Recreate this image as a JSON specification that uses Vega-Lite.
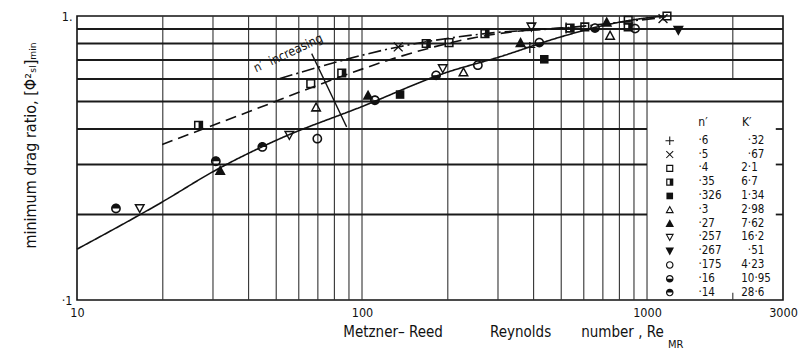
{
  "$schema": "https://vega.github.io/schema/vega-lite/v6.json",
  "width": 706,
  "height": 284,
  "autosize": "none",
  "padding": {"left": 77, "top": 16, "right": 22, "bottom": 56},
  "background": "white",
  "config": {
    "view": {"stroke": "#111", "strokeWidth": 1.6},
    "font": "DejaVu Sans Condensed, Liberation Sans Narrow, DejaVu Sans, sans-serif"
  },
  "datasets": {
    "hgrid": [
      {"y": 0.2, "x1": 10, "x2": 1000}, {"y": 0.3, "x1": 10, "x2": 1000}, {"y": 0.4, "x1": 10, "x2": 1000},
      {"y": 0.5, "x1": 10, "x2": 3000}, {"y": 0.6, "x1": 10, "x2": 3000}, {"y": 0.7, "x1": 10, "x2": 3000},
      {"y": 0.8, "x1": 10, "x2": 3000}, {"y": 0.9, "x1": 10, "x2": 3000},
      {"y": 0.2, "x1": 2830, "x2": 3000}, {"y": 0.3, "x1": 2830, "x2": 3000}, {"y": 0.4, "x1": 2830, "x2": 3000}
    ],
    "vgrid": [
      {"x": 20, "y1": 0.1, "y2": 1}, {"x": 30, "y1": 0.1, "y2": 1}, {"x": 40, "y1": 0.1, "y2": 1},
      {"x": 50, "y1": 0.1, "y2": 1}, {"x": 60, "y1": 0.1, "y2": 1}, {"x": 70, "y1": 0.1, "y2": 1},
      {"x": 80, "y1": 0.1, "y2": 1}, {"x": 90, "y1": 0.1, "y2": 1}, {"x": 100, "y1": 0.1, "y2": 1},
      {"x": 200, "y1": 0.1, "y2": 1}, {"x": 300, "y1": 0.1, "y2": 1}, {"x": 400, "y1": 0.1, "y2": 1},
      {"x": 500, "y1": 0.1, "y2": 1}, {"x": 600, "y1": 0.1, "y2": 1}, {"x": 700, "y1": 0.1, "y2": 1},
      {"x": 800, "y1": 0.1, "y2": 1}, {"x": 900, "y1": 0.1, "y2": 1}, {"x": 1000, "y1": 0.1, "y2": 1},
      {"x": 2000, "y1": 0.6, "y2": 1}, {"x": 2000, "y1": 0.1, "y2": 0.106}
    ],
    "curves": [
      {"curve": "solid", "x": 10, "y": 0.151}, {"curve": "solid", "x": 20, "y": 0.222},
      {"curve": "solid", "x": 30, "y": 0.283}, {"curve": "solid", "x": 50, "y": 0.365},
      {"curve": "solid", "x": 100, "y": 0.48}, {"curve": "solid", "x": 200, "y": 0.635},
      {"curve": "solid", "x": 300, "y": 0.715}, {"curve": "solid", "x": 500, "y": 0.845},
      {"curve": "solid", "x": 700, "y": 0.925}, {"curve": "solid", "x": 1000, "y": 0.985},
      {"curve": "solid", "x": 1150, "y": 1.0},
      {"curve": "dashed", "x": 19.9, "y": 0.353}, {"curve": "dashed", "x": 40, "y": 0.46},
      {"curve": "dashed", "x": 80, "y": 0.6}, {"curve": "dashed", "x": 136, "y": 0.72},
      {"curve": "dashed", "x": 250, "y": 0.84}, {"curve": "dashed", "x": 400, "y": 0.895},
      {"curve": "dashed", "x": 530, "y": 0.91},
      {"curve": "dashdot", "x": 51.5, "y": 0.602}, {"curve": "dashdot", "x": 134, "y": 0.778},
      {"curve": "dashdot", "x": 270, "y": 0.867}, {"curve": "dashdot", "x": 530, "y": 0.91},
      {"curve": "dashdot", "x": 800, "y": 0.95}, {"curve": "dashdot", "x": 1160, "y": 0.99}
    ],
    "arrow": [{"x": 66.6, "y": 0.737, "x2": 88.3, "y2": 0.407}],
    "notes": [{"x": 42.5, "y": 0.632, "t": "n′\u00a0\u00a0increasing"}],
    "sub": [{"x": 1185, "y": 0.0675, "t": "MR"}],
    "pts": [
      {"n": "·6", "x": 520, "y": 0.907}, {"n": "·6", "x": 388, "y": 0.775},
      {"n": "·5", "x": 134, "y": 0.778}, {"n": "·5", "x": 1138, "y": 0.979},
      {"n": "·4", "x": 66.1, "y": 0.578}, {"n": "·4", "x": 202, "y": 0.806}, {"n": "·4", "x": 605, "y": 0.915},
      {"n": "·4", "x": 859, "y": 0.966}, {"n": "·4", "x": 1175, "y": 1.0},
      {"n": "·35", "x": 26.7, "y": 0.412}, {"n": "·35", "x": 84.9, "y": 0.63}, {"n": "·35", "x": 168, "y": 0.8},
      {"n": "·35", "x": 270, "y": 0.867}, {"n": "·35", "x": 537, "y": 0.907}, {"n": "·35", "x": 859, "y": 0.915},
      {"n": "·326", "x": 136, "y": 0.529}, {"n": "·326", "x": 436, "y": 0.704},
      {"n": "·3", "x": 69, "y": 0.478}, {"n": "·3", "x": 227, "y": 0.635}, {"n": "·3", "x": 742, "y": 0.855},
      {"n": "·27", "x": 31.8, "y": 0.286}, {"n": "·27", "x": 105, "y": 0.526}, {"n": "·27", "x": 360, "y": 0.806},
      {"n": "·27", "x": 722, "y": 0.952},
      {"n": "·257", "x": 16.6, "y": 0.21}, {"n": "·257", "x": 55.6, "y": 0.38}, {"n": "·257", "x": 192, "y": 0.653},
      {"n": "·257", "x": 393, "y": 0.915},
      {"n": "·267", "x": 1288, "y": 0.891},
      {"n": "·175", "x": 69.7, "y": 0.37}, {"n": "·175", "x": 255, "y": 0.671}, {"n": "·175", "x": 908, "y": 0.903},
      {"n": "·16", "x": 111, "y": 0.505}, {"n": "·16", "x": 182, "y": 0.618}, {"n": "·16", "x": 419, "y": 0.806},
      {"n": "·16", "x": 657, "y": 0.907},
      {"n": "·14", "x": 13.7, "y": 0.21}, {"n": "·14", "x": 30.7, "y": 0.308}, {"n": "·14", "x": 44.7, "y": 0.346}
    ]
  },
  "layer": [
    {
      "data": {"name": "vgrid"},
      "mark": {"type": "rule", "color": "#333", "strokeWidth": 1.1},
      "encoding": {
        "x": {"field": "x", "type": "quantitative", "scale": {"type": "log", "domain": [10, 3000], "nice": false}},
        "y": {"field": "y1", "type": "quantitative", "scale": {"type": "log", "domain": [0.1, 1], "nice": false}},
        "y2": {"field": "y2"}
      }
    },
    {
      "data": {"name": "hgrid"},
      "mark": {"type": "rule", "color": "#1a1a1a", "strokeWidth": 1.8},
      "encoding": {
        "y": {"field": "y", "type": "quantitative", "scale": {"type": "log", "domain": [0.1, 1], "nice": false}},
        "x": {"field": "x1", "type": "quantitative", "scale": {"type": "log", "domain": [10, 3000], "nice": false}},
        "x2": {"field": "x2"}
      }
    },
    {
      "data": {"name": "curves"},
      "mark": {"type": "line", "color": "#111", "strokeWidth": 1.6, "interpolate": "monotone"},
      "encoding": {
        "x": {"field": "x", "type": "quantitative", "scale": {"type": "log", "domain": [10, 3000], "nice": false}},
        "y": {"field": "y", "type": "quantitative", "scale": {"type": "log", "domain": [0.1, 1], "nice": false}},
        "detail": {"field": "curve"},
        "strokeDash": {"field": "curve", "type": "nominal", "legend": null,
          "scale": {"domain": ["solid", "dashed", "dashdot"], "range": [[1, 0], [11, 6], [13, 4, 2, 4]]}}
      }
    },
    {
      "data": {"name": "arrow"},
      "mark": {"type": "rule", "color": "#111", "strokeWidth": 1.3},
      "encoding": {
        "x": {"field": "x", "type": "quantitative", "scale": {"type": "log", "domain": [10, 3000], "nice": false}},
        "y": {"field": "y", "type": "quantitative", "scale": {"type": "log", "domain": [0.1, 1], "nice": false}},
        "x2": {"field": "x2"},
        "y2": {"field": "y2"}
      }
    },
    {
      "data": {"name": "notes"},
      "mark": {"type": "text", "angle": -25, "align": "left", "baseline": "alphabetic", "fontSize": 12.5, "color": "#111"},
      "encoding": {
        "x": {"field": "x", "type": "quantitative", "scale": {"type": "log", "domain": [10, 3000], "nice": false}},
        "y": {"field": "y", "type": "quantitative", "scale": {"type": "log", "domain": [0.1, 1], "nice": false}},
        "text": {"field": "t"}
      }
    },
    {
      "data": {"name": "sub"},
      "mark": {"type": "text", "align": "left", "baseline": "alphabetic", "fontSize": 11, "color": "#111"},
      "encoding": {
        "x": {"field": "x", "type": "quantitative", "scale": {"type": "log", "domain": [10, 3000], "nice": false}},
        "y": {"field": "y", "type": "quantitative", "scale": {"type": "log", "domain": [0.1, 1], "nice": false}},
        "text": {"field": "t"}
      }
    },
    {
      "data": {"name": "pts"},
      "mark": {"type": "point", "filled": true, "color": "#111", "strokeWidth": 0, "size": 150, "opacity": 1},
      "encoding": {
        "x": {"field": "x", "type": "quantitative", "scale": {"type": "log", "domain": [10, 3000], "nice": false},
          "axis": {
            "title": "Metzner– Reed\u00a0\u00a0\u00a0\u00a0\u00a0\u00a0\u00a0\u00a0\u00a0\u00a0\u00a0Reynolds\u00a0\u00a0\u00a0\u00a0\u00a0\u00a0\u00a0number , Re",
            "titleFontSize": 15, "titleFontWeight": "normal", "titleColor": "#111",
            "titleX": 426, "titleY": 36, "titleAlign": "center", "titleBaseline": "alphabetic",
            "values": [10, 100, 1000, 3000], "format": "d", "labelFlush": false,
            "labelFontSize": 12.5, "labelColor": "#111", "labelPadding": 6,
            "ticks": false, "domain": false, "grid": false
          }},
        "y": {"field": "y", "type": "quantitative", "scale": {"type": "log", "domain": [0.1, 1], "nice": false},
          "axis": {
            "title": "minimum drag ratio, [Φ²ₛₗ]ₘᵢₙ",
            "titleFontSize": 16, "titleFontWeight": "normal", "titleColor": "#111",
            "titleX": -47, "titleY": 129, "titleAlign": "center", "titleBaseline": "middle",
            "values": [0.1, 1], "labelExpr": "datum.value > 0.5 ? '1.' : '·1'",
            "labelFontSize": 12.5, "labelColor": "#111", "labelPadding": 5,
            "ticks": false, "domain": false, "grid": false
          }},
        "shape": {"field": "n", "type": "nominal",
          "scale": {
            "domain": ["·6", "·5", "·4", "·35", "·326", "·3", "·27", "·257", "·267", "·175", "·16", "·14"],
            "range": [
              "M-0.9,-0.11H-0.11V-0.9H0.11V-0.11H0.9V0.11H0.11V0.9H-0.11V0.11H-0.9Z",
              "M-0.8,-0.65L-0.65,-0.8L0,-0.15L0.65,-0.8L0.8,-0.65L0.15,0L0.8,0.65L0.65,0.8L0,0.15L-0.65,0.8L-0.8,0.65L-0.15,0Z",
              "M-0.75,-0.75H0.75V0.75H-0.75Z M-0.5,-0.5V0.5H0.5V-0.5Z",
              "M-0.75,-0.75H0.75V0.75H-0.75Z M-0.5,-0.5V0.5H0.5V-0.5Z M0,-0.5H0.5V0.5H0Z",
              "M-0.7,-0.7H0.7V0.7H-0.7Z",
              "M0,-0.9L0.9,0.75H-0.9Z M0,-0.42L-0.5,0.5H0.5Z",
              "M0,-0.9L0.9,0.75H-0.9Z",
              "M-0.9,-0.75H0.9L0,0.9Z M-0.5,-0.5L0,0.42L0.5,-0.5Z",
              "M-0.9,-0.75H0.9L0,0.9Z",
              "M-0.8,0A0.8,0.8,0,1,1,0.8,0A0.8,0.8,0,1,1,-0.8,0Z M-0.55,0A0.55,0.55,0,1,0,0.55,0A0.55,0.55,0,1,0,-0.55,0Z",
              "M-0.8,0A0.8,0.8,0,1,1,0.8,0A0.8,0.8,0,1,1,-0.8,0Z M-0.55,0A0.55,0.55,0,1,0,0.55,0A0.55,0.55,0,1,0,-0.55,0Z M-0.55,0H0.55A0.55,0.55,0,0,1,-0.55,0Z",
              "M-0.8,0A0.8,0.8,0,1,1,0.8,0A0.8,0.8,0,1,1,-0.8,0Z M-0.55,0A0.55,0.55,0,1,0,0.55,0A0.55,0.55,0,1,0,-0.55,0Z M0.55,0H-0.55A0.55,0.55,0,0,1,0.55,0Z"
            ]
          },
          "legend": {
            "orient": "none", "legendX": 587, "legendY": 101, "padding": 0,
            "title": "\u200b\u2007\u2007\u2007\u2007\u2007n′\u2007\u2007\u2007\u2007\u2007K′",
            "titleFontSize": 12, "titleFontWeight": "normal", "titleColor": "#111", "titlePadding": 6,
            "labelFontSize": 11.5, "labelColor": "#111", "labelOffset": 23, "rowPadding": 0.8,
            "symbolSize": 90, "symbolFillColor": "#111", "symbolStrokeWidth": 0, "symbolOpacity": 1,
            "labelExpr": "pad(datum.label, 7, '\u2007') + ({'·6':'\u2007·32','·5':'\u2007·67','·4':'2·1','·35':'6·7','·326':'1·34','·3':'2·98','·27':'7·62','·257':'16·2','·267':'\u2007·51','·175':'4·23','·16':'10·95','·14':'28·6'})[datum.label]"
          }
        }
      }
    }
  ]
}
